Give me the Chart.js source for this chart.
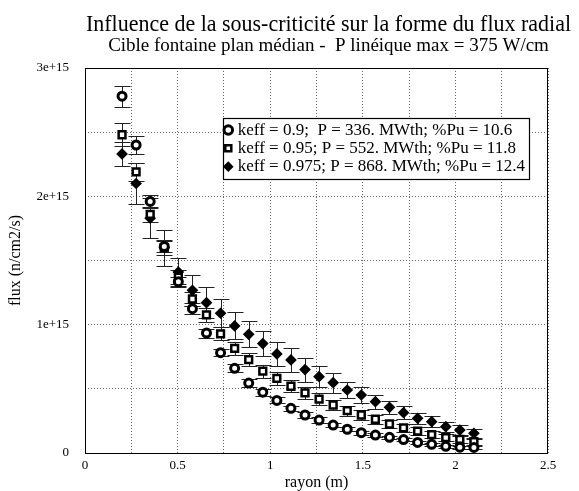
<!DOCTYPE html>
<html lang="fr">
<head>
<meta charset="utf-8">
<title>Influence de la sous-criticité sur la forme du flux radial</title>
<script src="https://cdn.jsdelivr.net/npm/chart.js@4.4.0/dist/chart.umd.min.js"></script>
<style>
  html, body { margin: 0; padding: 0; background: #fff; }
  #wrap { width: 579px; height: 491px; }
</style>
</head>
<body>
<div id="wrap"><canvas id="fluxChart"></canvas></div>
<script>
const SERIF = "'Liberation Serif', 'Times New Roman', serif";

// radial position of each point (m)
const rayon = [0.2, 0.276, 0.352, 0.428, 0.504, 0.58, 0.656, 0.732, 0.808, 0.884, 0.96, 1.036, 1.112,
  1.188, 1.264, 1.34, 1.416, 1.492, 1.568, 1.644, 1.72, 1.796, 1.872, 1.948, 2.024, 2.1];

// flux (n/cm2/s) for each keff
const fluxKeff090 = [2.78e15, 2.40e15, 1.96e15, 1.61e15, 1.335e15, 1.125e15, 0.935e15, 0.782e15, 0.66e15,
  0.545e15, 0.474e15, 0.41e15, 0.348e15, 0.296e15, 0.257e15, 0.218e15, 0.185e15, 0.158e15, 0.14e15,
  0.122e15, 0.105e15, 0.082e15, 0.068e15, 0.052e15, 0.045e15, 0.043e15];
const fluxKeff095 = [2.48e15, 2.19e15, 1.86e15, 1.60e15, 1.37e15, 1.20e15, 1.076e15, 0.928e15, 0.816e15,
  0.728e15, 0.638e15, 0.582e15, 0.52e15, 0.468e15, 0.42e15, 0.374e15, 0.33e15, 0.296e15, 0.263e15,
  0.226e15, 0.196e15, 0.17e15, 0.144e15, 0.12e15, 0.106e15, 0.088e15];
const fluxKeff0975 = [2.33e15, 2.10e15, 1.83e15, 1.60e15, 1.41e15, 1.268e15, 1.171e15, 1.089e15, 0.99e15,
  0.925e15, 0.853e15, 0.772e15, 0.725e15, 0.65e15, 0.595e15, 0.548e15, 0.491e15, 0.452e15, 0.40e15,
  0.356e15, 0.314e15, 0.27e15, 0.244e15, 0.205e15, 0.179e15, 0.154e15];

// error bars (half height, n/cm2/s)
const errKeff090 = [0.08e15, 0.07e15, 0.05e15, 0.045e15, 0.04e15, 0.04e15, 0.035e15, 0.03e15, 0.03e15,
  0.028e15, 0.026e15, 0.024e15, 0.022e15, 0.02e15, 0.02e15, 0.018e15, 0.017e15, 0.016e15, 0.015e15,
  0.014e15, 0.013e15, 0.012e15, 0.011e15, 0.01e15, 0.01e15, 0.01e15];
const errKeff095 = [0.09e15, 0.07e15, 0.06e15, 0.06e15, 0.055e15, 0.055e15, 0.055e15, 0.05e15, 0.05e15,
  0.05e15, 0.05e15, 0.05e15, 0.048e15, 0.046e15, 0.044e15, 0.042e15, 0.04e15, 0.038e15, 0.035e15,
  0.033e15, 0.03e15, 0.03e15, 0.028e15, 0.026e15, 0.025e15, 0.024e15];
const errKeff0975 = [0.095e15, 0.16e15, 0.155e15, 0.14e15, 0.11e15, 0.12e15, 0.12e15, 0.11e15, 0.105e15,
  0.1e15, 0.095e15, 0.093e15, 0.095e15, 0.093e15, 0.083e15, 0.078e15, 0.06e15, 0.06e15, 0.055e15,
  0.05e15, 0.05e15, 0.045e15, 0.045e15, 0.04e15, 0.04e15, 0.035e15];

const seriesLabels = [
  "keff = 0.9;  P = 336. MWth; %Pu = 10.6",
  "keff = 0.95; P = 552. MWth; %Pu = 11.8",
  "keff = 0.975; P = 868. MWth; %Pu = 12.4"
];

const xTickValues = [0, 0.5, 1, 1.5, 2, 2.5];
const xTickLabels = ["0", "0.5", "1", "1.5", "2", "2.5"];
const yTickValues = [0, 1e15, 2e15, 3e15];
const yTickLabels = ["0", "1e+15", "2e+15", "3e+15"];

function toPoints(values) {
  return rayon.map((r, i) => ({ x: r, y: values[i] }));
}

// only some grid lines carry a label
function tickLabel(values, labels, v, tol) {
  const i = values.findIndex(t => Math.abs(t - v) < tol);
  return i >= 0 ? labels[i] : "";
}

// vertical error bars with caps, drawn under the markers
const errorBars = {
  id: "errorBars",
  beforeDatasetsDraw(chart) {
    const { ctx, chartArea, scales: { x, y } } = chart;
    ctx.save();
    ctx.beginPath();
    ctx.rect(chartArea.left, chartArea.top, chartArea.width, chartArea.height);
    ctx.clip();
    ctx.strokeStyle = "#222";
    ctx.lineWidth = 1;
    chart.data.datasets.forEach(ds => {
      ds.data.forEach((p, i) => {
        const e = ds.errors[i];
        const px = Math.round(x.getPixelForValue(p.x)) + 0.5;
        const top = Math.round(y.getPixelForValue(p.y + e)) + 0.5;
        const bot = Math.round(y.getPixelForValue(p.y - e)) + 0.5;
        ctx.beginPath();
        ctx.moveTo(px, top); ctx.lineTo(px, bot);
        ctx.moveTo(px - 8, top); ctx.lineTo(px + 8, top);
        ctx.moveTo(px - 8, bot); ctx.lineTo(px + 8, bot);
        ctx.stroke();
      });
    });
    ctx.restore();
  }
};

function drawLegendBox(legend) {
  const ctx = legend.ctx;
  const boxes = legend.legendHitBoxes || [];
  if (!boxes.length) return;
  const left = Math.round(legend.left - 3) + 0.5;
  const top = Math.round(legend.top - 2) + 0.5;
  const right = Math.round(Math.max(...boxes.map(b => b.left + b.width)) + 4) + 0.5;
  const bottom = Math.round(Math.max(...boxes.map(b => b.top + b.height)) + 4) + 0.5;
  ctx.save();
  ctx.fillStyle = "#fff";
  ctx.fillRect(left, top, right - left, bottom - top);
  ctx.strokeStyle = "#000";
  ctx.lineWidth = 1.2;
  ctx.strokeRect(left, top, right - left, bottom - top);
  ctx.restore();
}

// places titles and legend like the original, draws the plot frame
const chartLayout = {
  id: "chartLayout",
  beforeLayout(chart) {
    const legend = chart.legend;
    if (legend && !legend._framed) {
      legend._framed = true;
      legend._layers = () => [{
        z: 0,
        draw: () => {
          drawLegendBox(legend);
          legend.ctx.save();
          legend._draw();
          legend.ctx.restore();
        }
      }];
    }
  },
  afterLayout(chart) {
    const area = chart.chartArea;
    // titles are centred a little right of the plot and may run past it
    chart.boxes.forEach(b => {
      if (b.options && typeof b.options.text === "string") {
        b.left = area.left + 1;
        b.right = area.right + 23;
      }
    });
    const legend = chart.legend;
    legend.left = area.left + 141;
    legend.top = area.top + 52.25;
    legend.width = 320;
    legend.height = 70;
    legend.right = legend.left + legend.width;
    legend.bottom = legend.top + legend.height;
  },
  afterDraw(chart) {
    const { ctx, chartArea } = chart;
    ctx.save();
    ctx.strokeStyle = "#000";
    ctx.lineWidth = 1;
    ctx.strokeRect(Math.round(chartArea.left) + 0.5, Math.round(chartArea.top) + 0.5,
      Math.round(chartArea.width) - 1, Math.round(chartArea.height));
    ctx.restore();
  }
};

new Chart(document.getElementById("fluxChart"), {
  type: "scatter",
  data: {
    datasets: [
      {
        label: seriesLabels[0],
        data: toPoints(fluxKeff090),
        errors: errKeff090,
        pointStyle: "circle",
        pointRadius: 4,
        pointBorderWidth: 3,
        pointBackgroundColor: "#fff",
        pointBorderColor: "#000"
      },
      {
        label: seriesLabels[1],
        data: toPoints(fluxKeff095),
        errors: errKeff095,
        pointStyle: "rect",
        pointRadius: 4.8,
        pointBorderWidth: 2.5,
        pointBackgroundColor: "#fff",
        pointBorderColor: "#000"
      },
      {
        label: seriesLabels[2],
        data: toPoints(fluxKeff0975),
        errors: errKeff0975,
        pointStyle: "rectRot",
        pointRadius: 4.8,
        pointBorderWidth: 1.5,
        pointBackgroundColor: "#000",
        pointBorderColor: "#000"
      }
    ]
  },
  options: {
    responsive: true,
    maintainAspectRatio: false,
    animation: false,
    events: [],
    layout: { padding: { left: 0, right: 31, top: 0, bottom: 0 } },
    plugins: {
      tooltip: { enabled: false },
      title: {
        display: true,
        text: "Influence de la sous-criticité sur la forme du flux radial",
        color: "#000",
        font: { family: SERIF, size: 24, weight: "normal", lineHeight: 1 },
        padding: { top: 13, bottom: 0 }
      },
      subtitle: {
        display: true,
        text: "Cible fontaine plan médian -  P linéique max = 375 W/cm",
        color: "#000",
        font: { family: SERIF, size: 19, weight: "normal", lineHeight: 1 },
        padding: { top: 0, bottom: 12 }
      },
      legend: {
        position: "chartArea",
        align: "start",
        labels: {
          usePointStyle: true,
          boxWidth: 2,
          boxHeight: 6,
          padding: 1.3,
          color: "#000",
          font: { family: SERIF, size: 17 }
        }
      }
    },
    scales: {
      x: {
        type: "linear",
        min: 0,
        max: 2.5,
        afterFit(scale) { scale.height = 38; },
        grid: { color: "#666", z: -1, drawTicks: false },
        border: { display: false, dash: [1, 2] },
        ticks: {
          stepSize: 0.25,
          autoSkip: false,
          maxRotation: 0,
          padding: 5,
          color: "#000",
          font: { family: SERIF, size: 13 },
          callback: v => tickLabel(xTickValues, xTickLabels, v, 1e-6)
        },
        title: {
          display: true,
          text: "rayon (m)",
          color: "#000",
          font: { family: SERIF, size: 16, lineHeight: 1 },
          padding: { top: 0, bottom: 0 }
        }
      },
      y: {
        type: "linear",
        min: 0,
        max: 3e15,
        afterFit(scale) { scale.width = 85; },
        grid: { color: "#666", z: -1, drawTicks: false },
        border: { display: false, dash: [1, 2] },
        ticks: {
          stepSize: 5e14,
          autoSkip: false,
          padding: 16,
          color: "#000",
          font: { family: SERIF, size: 13 },
          callback: v => tickLabel(yTickValues, yTickLabels, v, 1e9)
        },
        title: {
          display: true,
          text: "flux (n/cm2/s)",
          color: "#000",
          font: { family: SERIF, size: 16, lineHeight: 1 },
          padding: { top: 8, bottom: 0 }
        }
      }
    }
  },
  plugins: [errorBars, chartLayout]
});
</script>
</body>
</html>
